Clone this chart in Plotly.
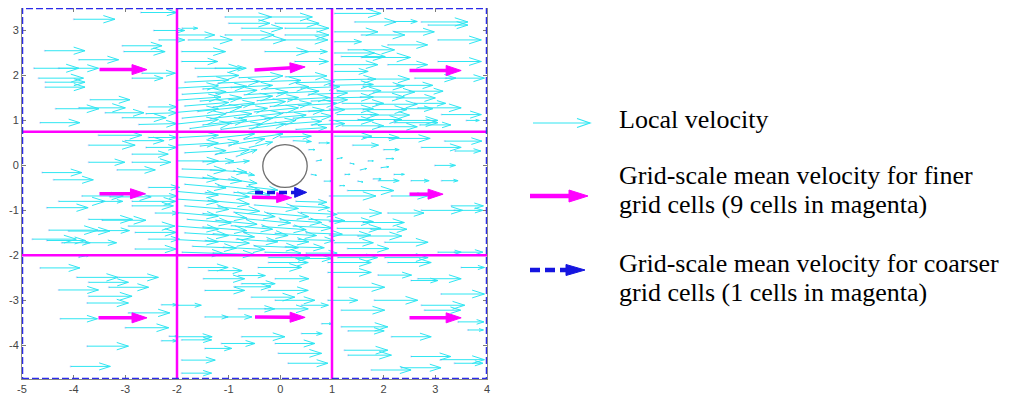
import math
import plotly.graph_objects as go
import plotly.figure_factory as ff

# ---------------- data ----------------
X_RANGE = [-5.0, 4.0]
Y_RANGE = [-4.75, 3.5]
X_TICKS = [-5, -4, -3, -2, -1, 0, 1, 2, 3, 4]
X_TICKTEXT = ["-5", "-4", "-3", "-2", "-1", "0", "1", "2", "3", "4"]
Y_TICKS = [-4, -3, -2, -1, 0, 1, 2, 3]
Y_TICKTEXT = ["-4", "-3", "-2", "-1", "0", "1", "2", "3"]

GRID_X = [-2.0, 1.0]          # fine-grid cell boundaries (vertical)
GRID_Y = [0.75, -2.0]         # fine-grid cell boundaries (horizontal)

CYL_X0, CYL_X1 = -0.34, 0.52  # cylinder outline
CYL_Y0, CYL_Y1 = -0.49, 0.46

# local velocity arrows, per region: tail x, tail y, u, v
TL_X = [-4.00, -4.56, -3.06, -3.03, -3.90, -4.77, -4.29, -4.68, -4.55, -4.55, -2.87, -2.68,
        -2.45, -2.35, -2.70, -3.68, -4.35, -3.90, -3.39, -4.65, -3.06, -2.74, -2.55, -2.60]
TL_Y = [3.25, 2.55, 2.66, 2.53, 2.35, 2.16, 2.16, 1.94, 1.85, 1.74, 1.94, 2.05,
        3.00, 2.79, 3.40, 1.46, 1.26, 1.28, 1.17, 0.95, 1.06, 0.91, 1.30, 1.15]
TL_U = [0.80, 0.78, 0.77, 0.80, 0.77, 0.87, 0.77, 0.87, 0.77, 0.77, 0.60, 0.65,
        0.60, 0.50, 0.70, 0.77, 0.84, 0.90, 0.75, 0.77, 0.85, 0.74, 0.55, 0.60]
TL_V = [0.00, 0.00, 0.00, 0.00, 0.00, 0.00, 0.00, 0.00, 0.00, 0.00, 0.00, 0.00,
        0.00, 0.00, 0.00, 0.00, 0.00, 0.00, 0.00, 0.00, 0.00, 0.02, 0.00, 0.02]

ML_X = [-3.52, -3.71, -3.00, -2.87, -3.71, -3.16, -4.61, -4.39, -2.87, -2.55, -2.60, -2.55,
        -3.84, -3.30, -2.55, -4.29, -3.45, -2.87, -4.52, -2.87, -2.42, -3.71, -3.45, -2.94,
        -4.48, -4.10, -3.52, -2.81, -4.80, -4.52, -2.55, -4.23, -3.77, -2.81]
ML_Y = [0.67, 0.45, 0.55, 0.25, 0.07, -0.10, -0.16, -0.32, 0.07, -0.49, 0.40, 0.62,
        -0.68, -0.70, -0.68, -0.80, -0.80, -0.80, -0.94, -0.90, -1.06, -1.20, -1.22, -1.35,
        -1.44, -1.46, -1.45, -1.49, -1.64, -1.67, -1.64, -1.72, -1.72, -1.86]
ML_U = [0.84, 0.90, 0.75, 0.70, 0.70, 0.74, 0.77, 0.77, 0.75, 0.60, 0.60, 0.55,
        0.80, 0.80, 0.55, 0.90, 0.40, 0.85, 0.80, 0.80, 0.45, 0.85, 0.85, 0.90,
        0.95, 0.80, 0.60, 0.80, 0.85, 0.75, 0.60, 0.55, 0.60, 0.80]
ML_V = [0.00, 0.00, 0.00, 0.00, 0.00, 0.00, 0.00, 0.00, 0.00, 0.00, 0.00, 0.00,
        0.00, 0.00, 0.00, 0.00, 0.00, 0.00, 0.00, 0.00, 0.00, 0.00, 0.00, 0.00,
        0.00, 0.00, 0.00, 0.00, 0.00, 0.00, 0.00, 0.00, 0.00, 0.00]

BL_X = [-3.90, -4.65, -3.94, -3.13, -3.71, -3.32, -4.29, -3.71, -3.74, -2.30, -2.94, -4.26,
        -3.00, -2.15, -2.30, -3.74, -4.06]
BL_Y = [-2.04, -2.28, -2.49, -2.49, -2.60, -2.71, -2.77, -2.91, -3.06, -3.10, -3.28, -3.41,
        -3.61, -3.80, -3.90, -4.02, -4.47]
BL_U = [0.20, 0.77, 0.80, 0.77, 0.77, 0.77, 0.77, 0.84, 0.80, 0.30, 0.80, 0.72,
        0.84, 0.15, 0.30, 0.80, 0.77]
BL_V = [0.04, 0.00, 0.00, 0.00, 0.00, 0.00, 0.00, 0.00, 0.00, 0.00, 0.00, 0.00,
        0.00, 0.00, 0.00, 0.00, 0.00]

TC_X = [-1.07, -0.23, -1.00, -0.10, -1.90, -0.75, 0.09, -1.97, -1.07, 0.09,
        -1.78, -0.75, 0.02, -1.91, -0.30, 0.41, -1.91, 0.28, -1.65, -1.26]
TC_Y = [3.30, 3.30, 3.16, 3.16, 3.05, 3.05, 3.05, 2.90, 2.90, 2.90,
        2.79, 2.79, 2.79, 2.53, 2.53, 2.53, 2.31, 2.31, 2.16, 2.16]
TC_U = [0.90, 0.85, 0.80, 0.85, 0.30, 0.80, 0.85, 0.70, 0.95, 0.85,
        0.85, 0.85, 0.90, 0.85, 0.85, 0.50, 0.70, 0.65, 0.90, 0.60]
TC_V = [0.00, 0.00, 0.00, 0.00, 0.00, 0.00, 0.00, 0.00, 0.00, 0.00,
        0.00, 0.00, 0.00, 0.00, 0.00, 0.00, 0.00, 0.00, 0.00, 0.00]

TCB_X = [-1.60, -0.80, 0.10,
         -1.85, -1.20, -0.45, 0.30,
         -2.00, -1.50, -0.95, -0.30, 0.40,
         -1.90, -1.25, -0.70, -0.05, 0.55,
         -2.00, -1.55, -1.00, -0.45, 0.15, 0.60,
         -1.85, -1.30, -0.75, -0.20, 0.35,
         -2.00, -1.60, -1.05, -0.50, 0.05, 0.55,
         -1.90, -1.35, -0.80, -0.30, 0.25,
         -2.00, -1.50, -0.95, -0.45, 0.10, 0.60,
         -1.75, -1.15, -0.60, 0.30]
TCB_Y = [1.97, 1.95, 1.97,
         1.85, 1.83, 1.86, 1.84,
         1.72, 1.70, 1.73, 1.70, 1.72,
         1.58, 1.60, 1.57, 1.60, 1.58,
         1.45, 1.43, 1.46, 1.44, 1.46, 1.43,
         1.32, 1.30, 1.33, 1.31, 1.33,
         1.18, 1.20, 1.17, 1.19, 1.17, 1.20,
         1.05, 1.04, 1.06, 1.04, 1.05,
         0.92, 0.90, 0.93, 0.90, 0.92, 0.90,
         0.82, 0.80, 0.82, 0.80]
TCB_U = [0.80, 0.85, 0.80,
         0.85, 0.80, 0.85, 0.75,
         0.80, 0.85, 0.80, 0.85, 0.75,
         0.85, 0.80, 0.85, 0.80, 0.75,
         0.85, 0.80, 0.85, 0.80, 0.80, 0.70,
         0.85, 0.80, 0.85, 0.80, 0.75,
         0.80, 0.85, 0.80, 0.85, 0.80, 0.70,
         0.85, 0.80, 0.85, 0.80, 0.75,
         0.80, 0.85, 0.80, 0.75, 0.70, 0.65,
         0.80, 0.80, 0.70, 0.60]
TCB_V = [0.03, 0.04, 0.02,
         0.05, 0.04, 0.03, 0.02,
         0.05, 0.06, 0.05, 0.05, 0.03,
         0.06, 0.07, 0.06, 0.05, 0.03,
         0.07, 0.08, 0.08, 0.07, 0.05, 0.03,
         0.08, 0.09, 0.09, 0.07, 0.05,
         0.08, 0.10, 0.10, 0.09, 0.06, 0.04,
         0.10, 0.11, 0.10, 0.08, 0.05,
         0.10, 0.11, 0.12, 0.10, 0.06, 0.03,
         0.12, 0.12, 0.10, 0.04]

TR_X = [1.05, 1.44, 2.20, 2.73, 2.86, 1.05, 2.21, 1.57, 3.05, 1.05, 2.08,
        1.31, 1.05, 1.18, 1.57, 3.05, 2.08, 1.05, 1.05, 2.60, 3.20]
TR_Y = [3.38, 3.19, 3.20, 3.19, 3.12, 2.97, 2.97, 2.90, 2.79, 2.75, 2.68,
        2.57, 2.50, 2.42, 2.40, 2.31, 2.24, 2.24, 2.09, 1.94, 1.94]
TR_U = [0.90, 0.80, 0.45, 0.90, 0.77, 0.84, 0.77, 0.84, 0.84, 0.52, 0.77,
        0.90, 0.77, 0.85, 0.95, 0.84, 0.77, 0.84, 0.65, 0.80, 0.75]
TR_V = [0.00, 0.00, 0.00, 0.00, 0.00, 0.00, 0.00, 0.00, 0.00, 0.00, 0.00,
        0.00, 0.00, 0.00, 0.00, 0.00, 0.00, 0.00, 0.00, 0.00, 0.00]

TRB_X = [1.00, 1.70, 0.95, 1.60, 2.25, 1.10, 1.80, 2.50, 0.95, 1.55, 2.25, 1.20, 1.85, 2.60,
         0.95, 1.60, 2.35, 1.10, 1.75, 3.12, 0.95, 1.50, 2.20, 3.60, 1.20, 1.90, 2.70, 2.66, 2.21]
TRB_Y = [1.90, 1.92, 1.78, 1.76, 1.78, 1.65, 1.63, 1.65, 1.50, 1.52, 1.50, 1.38, 1.36, 1.38,
         1.25, 1.24, 1.26, 1.13, 1.12, 1.13, 1.00, 1.02, 1.00, 1.00, 0.88, 0.86, 0.90, 1.28, 0.95]
TRB_U = [0.85, 0.80, 0.85, 0.80, 0.70, 0.85, 0.80, 0.65, 0.85, 0.85, 0.75, 0.80, 0.80, 0.60,
         0.85, 0.85, 0.60, 0.80, 0.75, 0.77, 0.85, 0.85, 0.85, 0.25, 0.80, 0.75, 0.60, 0.84, 0.84]
TRB_V = [0.02, 0.00, 0.02, 0.00, 0.00, 0.01, 0.00, 0.00, 0.02, 0.00, 0.00, 0.00, 0.00, 0.00,
         0.01, 0.00, 0.00, 0.00, 0.00, 0.00, 0.00, 0.00, 0.00, 0.00, 0.00, 0.00, 0.00, 0.00, 0.00]

MR_X = [1.05, 1.60, 2.10, 3.18, 2.73, 3.38, 1.40, 2.00,
        1.10, 1.35, 1.25, 1.55, 1.70, 1.95, 1.50, 1.80, 2.05, 2.20, 1.15,
        2.99, 1.90, 2.53, 3.12, 1.30, 2.15, 0.95, 3.31, 2.73, 3.37, 1.11, 2.08,
        0.95, 1.60, 1.10, 1.75, 0.95, 1.50, 2.02, 1.05, 1.30, 3.05, 3.37]
MR_Y = [0.65, 0.62, 0.60, 0.54, 0.40, 0.32, 0.45, 0.35,
        0.15, 0.05, -0.20, -0.10, 0.10, -0.05, -0.35, -0.30, 0.15, -0.20, -0.45,
        0.00, -0.34, -0.34, -0.34, -0.56, -0.68, -0.68, -0.90, -1.00, -1.00, -1.06, -1.06,
        -1.25, -1.27, -1.40, -1.42, -1.55, -1.57, -1.71, -1.72, -1.85, -1.93, -1.93]
MR_U = [0.72, 0.70, 0.80, 0.72, 0.77, 0.50, 0.50, 0.30,
        0.10, 0.08, 0.10, 0.12, 0.10, 0.15, 0.10, 0.15, 0.15, 0.20, 0.10,
        0.40, 0.40, 0.35, 0.32, 0.90, 0.70, 0.90, 0.62, 0.80, 0.55, 0.85, 0.70,
        0.85, 0.80, 0.85, 0.70, 0.80, 0.85, 0.84, 0.75, 0.80, 0.45, 0.55]
MR_V = [0.00, 0.00, 0.00, 0.00, 0.00, 0.00, 0.00, 0.00,
        0.02, -0.02, 0.00, 0.03, 0.00, 0.02, -0.02, 0.00, 0.00, 0.00, 0.00,
        0.00, 0.00, 0.00, 0.00, 0.00, 0.00, 0.00, 0.00, 0.00, 0.00, 0.00, 0.00,
        0.00, 0.00, 0.00, 0.00, 0.00, 0.00, 0.00, 0.00, 0.00, 0.00, 0.00]

BR_X = [1.11, 2.02, 0.92, 2.08, 3.50, 0.92, 1.89, 2.66, 2.53, 1.12, 3.11, 0.92, 1.82, 2.73,
        1.18, 2.79, 3.44, 1.18, 1.31, 3.63, 2.15, 1.24, 1.31, 2.53, 3.11, 3.37, 1.76, 2.34]
BR_Y = [-2.05, -2.05, -2.16, -2.16, -2.27, -2.38, -2.44, -2.52, -2.56, -2.71, -2.86, -3.00, -3.00, -3.11,
        -3.22, -3.22, -3.48, -3.59, -3.68, -3.66, -3.81, -4.11, -4.22, -4.25, -4.32, -4.40, -4.55, -4.50]
BR_U = [0.77, 0.84, 0.84, 0.84, 0.45, 0.84, 0.65, 0.84, 0.52, 0.90, 0.84, 0.58, 0.84, 0.84,
        0.84, 0.70, 0.50, 0.90, 0.70, 0.30, 0.77, 0.84, 0.84, 0.77, 0.84, 0.55, 0.77, 0.77]
BR_V = [0.00, 0.00, 0.00, 0.00, 0.00, 0.00, 0.00, 0.00, 0.00, 0.00, 0.00, 0.00, 0.00, 0.00,
        0.00, 0.00, 0.00, 0.00, 0.00, 0.00, 0.00, 0.00, 0.00, 0.00, 0.00, 0.00, 0.00, 0.00]

BC_X = [-0.23, 0.30, -0.23, -1.78, -0.43, -1.39, -0.81, -1.49, -0.10, -0.75, -1.46,
        -0.23, -0.88, -0.56, -0.10, -1.98, 0.41, -0.81, -0.30, -1.46, -1.07, 0.80,
        0.41, -1.97, -0.75, -1.91, -1.14, -0.10, -1.46, -0.04, -1.91, 0.15, -1.91]
BC_Y = [-2.05, -2.07, -2.16, -2.27, -2.27, -2.34, -2.45, -2.52, -2.52, -2.63, -2.78,
        -2.78, -2.70, -2.93, -3.00, -3.11, -3.11, -3.19, -3.19, -3.37, -3.37, -3.52,
        -3.74, -3.81, -3.81, -3.88, -3.96, -3.96, -4.07, -4.18, -4.33, -4.40, -4.62]
BC_U = [0.80, 0.70, 0.77, 0.77, 0.84, 0.65, 0.52, 0.80, 0.65, 0.65, 0.77,
        0.77, 0.70, 0.84, 0.77, 0.45, 0.52, 0.70, 0.84, 0.45, 0.52, 0.20,
        0.40, 0.65, 0.84, 0.58, 0.65, 0.77, 0.52, 0.84, 0.65, 0.77, 0.58]
BC_V = [0.00, 0.00, 0.00, 0.00, 0.00, 0.00, 0.00, 0.00, 0.00, 0.00, 0.00,
        0.00, 0.00, 0.00, 0.00, 0.00, 0.00, 0.00, 0.00, 0.00, 0.00, 0.00,
        0.00, 0.00, 0.00, 0.00, 0.00, 0.00, 0.00, 0.00, 0.00, 0.00, 0.00]

MCA_X = [-1.95, -1.30, -0.70, 0.00, -2.00, -1.55, -1.00, -0.60, -1.85, -1.25, -0.85,
         -2.00, -1.50, -1.00, -1.90, -1.35, -0.90, -2.00, -1.50, -1.00, -1.85, -1.20,
         -0.65, -2.00, -1.45, -0.90, 0.55, 0.70, 0.60, 0.85, 0.75, 0.25]
MCA_Y = [0.62, 0.60, 0.58, 0.63, 0.45, 0.43, 0.45, 0.40, 0.28, 0.25, 0.20,
         0.10, 0.08, 0.05, -0.08, -0.10, -0.12, -0.25, -0.27, -0.30, -0.42, -0.45,
         -0.47, -0.58, -0.60, -0.60, 0.35, 0.10, -0.20, -0.35, 0.50, 0.55]
MCA_U = [0.75, 0.80, 0.75, 0.60, 0.80, 0.75, 0.70, 0.45, 0.80, 0.65, 0.40,
         0.80, 0.60, 0.40, 0.85, 0.70, 0.40, 0.80, 0.75, 0.55, 0.80, 0.80,
         0.60, 0.80, 0.85, 0.70, 0.12, 0.10, 0.10, 0.15, 0.20, 0.35]
MCA_V = [0.05, 0.10, 0.12, 0.02, 0.05, 0.10, 0.14, 0.12, 0.05, 0.10, 0.15,
         0.00, 0.02, 0.05, -0.03, -0.05, -0.10, -0.06, -0.08, -0.10, -0.08, -0.10,
         -0.08, -0.08, -0.10, -0.06, 0.00, 0.02, -0.02, 0.00, 0.00, -0.02]

MCB_X = [-2.00, -1.40, 0.30,
         -1.85, -1.20, -0.50, 0.20,
         -2.00, -1.50, -0.90, -0.25, 0.40,
         -1.80, -1.25, -0.65, 0.00, 0.55,
         -2.00, -1.50, -0.95, -0.35, 0.25,
         -1.85, -1.30, -0.70, -0.10, 0.50,
         -2.00, -1.45, -0.85, -0.25, 0.35,
         -1.70, -1.10, -0.50, 0.10,
         -1.90, -1.30, -0.30, 0.50]
MCB_Y = [-0.75, -0.78, -0.80,
         -0.90, -0.92, -0.88, -0.90,
         -1.05, -1.07, -1.04, -1.06, -1.05,
         -1.20, -1.22, -1.19, -1.21, -1.20,
         -1.35, -1.37, -1.34, -1.36, -1.35,
         -1.50, -1.52, -1.49, -1.51, -1.50,
         -1.65, -1.67, -1.64, -1.66, -1.65,
         -1.80, -1.82, -1.79, -1.81,
         -1.93, -1.95, -1.93, -1.95]
MCB_U = [0.80, 0.80, 0.60,
         0.85, 0.80, 0.85, 0.75,
         0.80, 0.85, 0.80, 0.80, 0.70,
         0.85, 0.80, 0.85, 0.80, 0.70,
         0.80, 0.85, 0.80, 0.85, 0.75,
         0.85, 0.80, 0.85, 0.80, 0.70,
         0.80, 0.85, 0.80, 0.80, 0.70,
         0.85, 0.80, 0.85, 0.75,
         0.80, 0.80, 0.70, 0.60]
MCB_V = [-0.06, -0.08, -0.02,
         -0.08, -0.10, -0.08, -0.04,
         -0.08, -0.10, -0.10, -0.08, -0.04,
         -0.08, -0.09, -0.09, -0.06, -0.03,
         -0.07, -0.08, -0.08, -0.07, -0.04,
         -0.06, -0.07, -0.07, -0.05, -0.03,
         -0.05, -0.06, -0.06, -0.04, -0.02,
         -0.04, -0.05, -0.04, -0.02,
         -0.03, -0.03, -0.02, 0.00]

# grid-scale mean velocity, 9 finer cells (tail -> head)
FINE_X0 = [-3.50, -0.50, 2.50, -3.50, -0.55, 2.50, -3.52, -0.49, 2.50]
FINE_Y0 = [2.13, 2.12, 2.11, -0.63, -0.71, -0.64, -3.39, -3.37, -3.39]
FINE_X1 = [-2.58, 0.48, 3.50, -2.61, 0.22, 3.15, -2.58, 0.48, 3.50]
FINE_Y1 = [2.13, 2.19, 2.11, -0.63, -0.72, -0.64, -3.39, -3.38, -3.39]

# grid-scale mean velocity, 1 coarser cell
COARSE_X0 = [-0.49]
COARSE_Y0 = [-0.60]
COARSE_X1 = [0.51]
COARSE_Y1 = [-0.60]

LEGEND_TEXT = ["Local velocity",
               "Grid-scale mean velocity for finer",
               "grid cells (9 cells in magenta)",
               "Grid-scale mean velocity for coarser",
               "grid cells (1 cells in magenta)"]

# ---------------- styling / layout ----------------
OFF = 8                      # page body margin around the figure
W, H = 1009, 388
M_L, M_T = 14, 0
PLOT_W, PLOT_H = 465, 371
M_R = W - M_L - PLOT_W
M_B = H - M_T - PLOT_H
SX = PLOT_W / (X_RANGE[1] - X_RANGE[0])
SY = PLOT_H / (Y_RANGE[1] - Y_RANGE[0])

CYAN = "#30e6f2"
MAGENTA = "#ff00ff"
BLUE = "#1515e0"
FRAME_BLUE = "#2a2ae8"
SERIF = "Liberation Serif, Times New Roman, serif"

X_ALL = TL_X + ML_X + BL_X + TC_X + TCB_X + TR_X + TRB_X + MR_X + BR_X + BC_X + MCA_X + MCB_X
Y_ALL = TL_Y + ML_Y + BL_Y + TC_Y + TCB_Y + TR_Y + TRB_Y + MR_Y + BR_Y + BC_Y + MCA_Y + MCB_Y
U_ALL = TL_U + ML_U + BL_U + TC_U + TCB_U + TR_U + TRB_U + MR_U + BR_U + BC_U + MCA_U + MCB_U
V_ALL = TL_V + ML_V + BL_V + TC_V + TCB_V + TR_V + TRB_V + MR_V + BR_V + BC_V + MCA_V + MCB_V
assert len(X_ALL) == len(Y_ALL) == len(U_ALL) == len(V_ALL), (len(X_ALL), len(Y_ALL), len(U_ALL), len(V_ALL))

quiver = ff.create_quiver(X_ALL, Y_ALL, U_ALL, V_ALL, scale=1, arrow_scale=0.3,
                          angle=math.pi / 9,
                          line=dict(color=CYAN, width=1), hoverinfo="skip",
                          showlegend=False)
fig = go.Figure(data=quiver.data)

fig.add_trace(go.Scatter(x=X_ALL, y=Y_ALL, mode="markers",
                         marker=dict(size=2, color="#6a6af0", opacity=0.25),
                         hoverinfo="skip", showlegend=False))


def thick_arrows(x0s, y0s, x1s, y1s, head_len, head_half):
    sx, sy, hx, hy = [], [], [], []
    for x0, y0, x1, y1 in zip(x0s, y0s, x1s, y1s):
        dx, dy = (x1 - x0) * SX, (y1 - y0) * SY
        n = math.hypot(dx, dy)
        ux, uy = dx / n, dy / n
        bx, by = x1 - ux * head_len / SX, y1 - uy * head_len / SY
        px, py = -uy, ux
        ex, ey = bx + ux * 2 / SX, by + uy * 2 / SY
        sx += [x0, ex, None]
        sy += [y0, ey, None]
        hx += [x1, bx + px * head_half / SX, bx - px * head_half / SX, x1, None]
        hy += [y1, by + py * head_half / SY, by - py * head_half / SY, y1, None]
    return sx, sy, hx, hy


fsx, fsy, fhx, fhy = thick_arrows(FINE_X0, FINE_Y0, FINE_X1, FINE_Y1, 15, 5)
fig.add_trace(go.Scatter(x=fsx, y=fsy, mode="lines", line=dict(color=MAGENTA, width=3.5),
                         hoverinfo="skip", showlegend=False))
fig.add_trace(go.Scatter(x=fhx, y=fhy, mode="lines", fill="toself", fillcolor=MAGENTA,
                         line=dict(color=MAGENTA, width=1), hoverinfo="skip", showlegend=False))

csx, csy, chx, chy = thick_arrows(COARSE_X0, COARSE_Y0, COARSE_X1, COARSE_Y1, 12, 5)
fig.add_trace(go.Scatter(x=csx, y=csy, mode="lines",
                         line=dict(color=BLUE, width=3.5, dash="8px,4px"),
                         hoverinfo="skip", showlegend=False))
fig.add_trace(go.Scatter(x=chx, y=chy, mode="lines", fill="toself", fillcolor=BLUE,
                         line=dict(color=BLUE, width=1), hoverinfo="skip", showlegend=False))

shapes = []
for gx in GRID_X:
    shapes.append(dict(type="line", xref="x", yref="y", x0=gx, x1=gx,
                       y0=Y_RANGE[0], y1=Y_RANGE[1], line=dict(color=MAGENTA, width=2.5)))
for gy in GRID_Y:
    shapes.append(dict(type="line", xref="x", yref="y", x0=X_RANGE[0], x1=X_RANGE[1],
                       y0=gy, y1=gy, line=dict(color=MAGENTA, width=2.5)))
shapes.append(dict(type="circle", xref="x", yref="y", x0=CYL_X0, x1=CYL_X1, y0=CYL_Y0, y1=CYL_Y1,
                   line=dict(color="#6e6e6e", width=1.3), fillcolor="white"))
shapes.append(dict(type="rect", xref="x", yref="y", x0=X_RANGE[0], x1=X_RANGE[1],
                   y0=Y_RANGE[0], y1=Y_RANGE[1],
                   line=dict(color=FRAME_BLUE, width=2.5, dash="7px,3px")))


def pxx(px):
    return (px - OFF - M_L) / PLOT_W


def pxy(py):
    return (OFF + M_T + PLOT_H - py) / PLOT_H


# legend glyphs (positions in page pixels)
shapes.append(dict(type="line", xref="paper", yref="paper", x0=pxx(533), x1=pxx(590),
                   y0=pxy(123), y1=pxy(123), line=dict(color=CYAN, width=1.2)))
shapes.append(dict(type="path", xref="paper", yref="paper",
                   path=f"M {pxx(577)},{pxy(118.5)} L {pxx(590)},{pxy(123)} L {pxx(577)},{pxy(127.5)}",
                   line=dict(color=CYAN, width=1.2)))
shapes.append(dict(type="line", xref="paper", yref="paper", x0=pxx(530), x1=pxx(572),
                   y0=pxy(196), y1=pxy(196), line=dict(color=MAGENTA, width=4.5)))
shapes.append(dict(type="path", xref="paper", yref="paper",
                   path=f"M {pxx(569)},{pxy(190)} L {pxx(588)},{pxy(196)} L {pxx(569)},{pxy(202)} Z",
                   fillcolor=MAGENTA, line=dict(color=MAGENTA, width=1)))
shapes.append(dict(type="line", xref="paper", yref="paper", x0=pxx(530), x1=pxx(568),
                   y0=pxy(270), y1=pxy(270), line=dict(color=BLUE, width=4.5, dash="10px,5px")))
shapes.append(dict(type="path", xref="paper", yref="paper",
                   path=f"M {pxx(566)},{pxy(264.5)} L {pxx(585)},{pxy(270)} L {pxx(566)},{pxy(275.5)} Z",
                   fillcolor=BLUE, line=dict(color=BLUE, width=1)))

annotations = []
for text, yc in zip(LEGEND_TEXT, [119, 175, 204, 263, 292]):
    annotations.append(dict(text=text, xref="paper", yref="paper", x=pxx(617), y=pxy(yc),
                            xanchor="left", yanchor="middle", showarrow=False,
                            font=dict(family=SERIF, size=26, color="black")))

axis_common = dict(showgrid=False, zeroline=False, showline=True, linecolor="#8a8a8a",
                   linewidth=1, mirror="ticks", ticks="inside", ticklen=4, automargin=False,
                   tickcolor="#7a7a7a", tickfont=dict(family="Arial, Liberation Sans",
                                                      size=11, color="#444444"))
fig.update_layout(
    width=W, height=H,
    margin=dict(l=M_L, r=M_R, t=M_T, b=M_B, autoexpand=False),
    paper_bgcolor="white", plot_bgcolor="white",
    showlegend=False,
    shapes=shapes,
    annotations=annotations,
    xaxis=dict(range=X_RANGE, tickvals=X_TICKS, ticktext=X_TICKTEXT, **axis_common),
    yaxis=dict(range=Y_RANGE, tickvals=Y_TICKS, ticktext=Y_TICKTEXT, **axis_common),
)

fig.write_html("out.html")
